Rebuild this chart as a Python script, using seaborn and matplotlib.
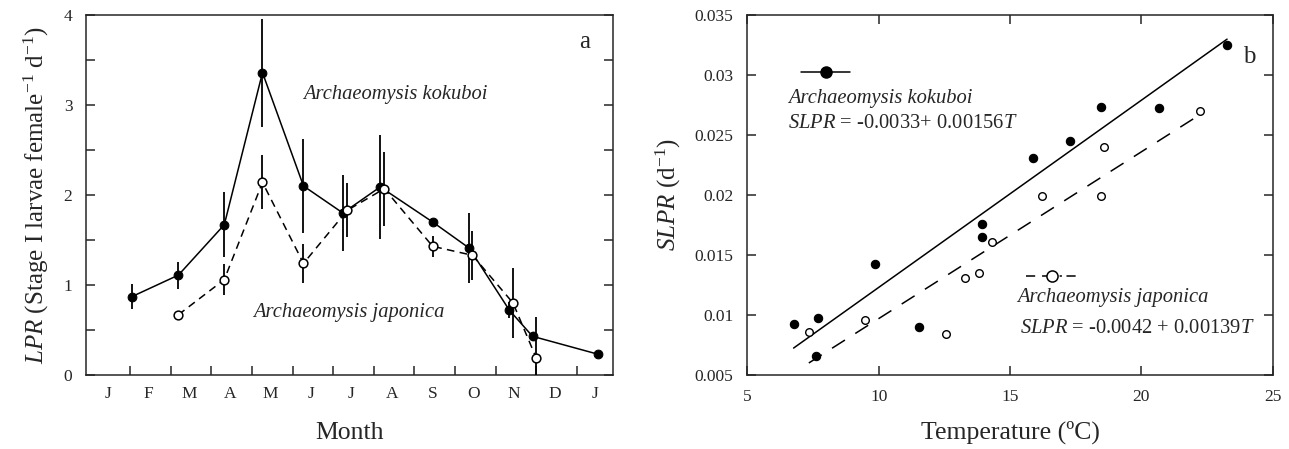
import numpy as np
import pandas as pd
import matplotlib
matplotlib.use("Agg")
import matplotlib.pyplot as plt
import seaborn as sns

# ---------------- data: panel a ----------------
month_labels = ["J", "F", "M", "A", "M", "J", "J", "A", "S", "O", "N", "D", "J"]
kok_month = [1.04, 2.19, 3.32, 4.26, 5.27, 6.24, 7.16, 8.45, 9.35, 10.34, 10.91, 12.53]
kok_lpr = [0.87, 1.11, 1.67, 3.36, 2.10, 1.80, 2.09, 1.70, 1.41, 0.72, 0.43, 0.23]
kok_sd = [0.14, 0.15, 0.36, 0.60, 0.52, 0.42, 0.58, 0.00, 0.39, 0.09, 0.05, 0.00]
jap_month = [2.19, 3.32, 4.26, 5.27, 6.35, 7.26, 8.45, 9.43, 10.43, 11.0]
jap_lpr = [0.67, 1.06, 2.14, 1.24, 1.83, 2.07, 1.43, 1.33, 0.80, 0.19]
jap_sd = [0.00, 0.17, 0.30, 0.22, 0.30, 0.41, 0.12, 0.27, 0.39, 0.46]

# ---------------- data: panel b ----------------
kok_temp = [6.76, 7.67, 7.62, 9.87, 11.54, 13.93, 13.93, 15.87, 17.27, 18.46, 20.66, 23.26]
kok_slpr = [0.00925, 0.00972, 0.00658, 0.01425, 0.00903, 0.01756, 0.01648,
            0.02306, 0.02453, 0.02736, 0.02722, 0.03250]
jap_temp = [7.34, 9.48, 12.56, 13.29, 13.80, 14.31, 16.23, 18.46, 18.59, 22.24]
jap_slpr = [0.00861, 0.00958, 0.00842, 0.01306, 0.01353, 0.01611,
            0.01992, 0.01992, 0.02403, 0.02700]
kok_coef = (-0.0033, 0.00156)
jap_coef = (-0.0042, 0.00139)

sns.set_style("ticks")
plt.rcParams["font.family"] = ["Liberation Serif", "DejaVu Serif"]
plt.rcParams["mathtext.fontset"] = "custom"
plt.rcParams["mathtext.rm"] = "Liberation Serif"
plt.rcParams["mathtext.it"] = "Liberation Serif:italic"

fig = plt.figure(figsize=(12.89, 4.49), dpi=100)
axA = fig.add_axes([0.0669, 0.1648, 0.4083, 0.8018])
axB = fig.add_axes([0.5798, 0.1648, 0.4076, 0.8018])

tick_fs = 12.5
lab_fs = 18.5
txt_fs = 14.8
tlen = 6.5

# ---------------- panel a ----------------
dk = pd.DataFrame({"month": kok_month, "lpr": kok_lpr})
dj = pd.DataFrame({"month": jap_month, "lpr": jap_lpr})

axA.errorbar(kok_month, kok_lpr, yerr=kok_sd, fmt="none", ecolor="black",
             elinewidth=1.3, capsize=0, zorder=2)
sns.lineplot(data=dk, x="month", y="lpr", ax=axA, color="black", lw=1.1,
             marker="o", markersize=6.3, markerfacecolor="black",
             markeredgecolor="black", sort=False, zorder=3)
axA.errorbar(jap_month, jap_lpr, yerr=jap_sd, fmt="none", ecolor="black",
             elinewidth=1.3, capsize=0, zorder=4)
sns.lineplot(data=dj, x="month", y="lpr", ax=axA, color="black", lw=1.1,
             linestyle=(0, (5, 3.5)), marker="o", markersize=6.3,
             markerfacecolor="white", markeredgecolor="black",
             markeredgewidth=1.1, sort=False, zorder=5)

axA.set_xlim(-0.08, 12.88)
axA.set_ylim(0, 4)
axA.set_xticks(np.arange(1, 13))
axA.set_xticklabels([])
axA.set_xticks(np.arange(len(month_labels)) + 0.45, minor=True)
axA.set_xticklabels(month_labels, minor=True)
axA.tick_params(axis="x", which="major", direction="in", length=tlen, width=1.1)
axA.tick_params(axis="x", which="minor", length=0, labelsize=tick_fs, pad=8)
axA.set_yticks(np.arange(0, 4.01, 0.5))
axA.set_yticklabels(["0", "", "1", "", "2", "", "3", "", "4"])
axA.tick_params(axis="y", direction="in", length=tlen, width=1.1,
                labelsize=tick_fs, left=True, right=True, pad=10)
for s in axA.spines.values():
    s.set_linewidth(1.1)
axA.set_xlabel("Month", fontsize=lab_fs, labelpad=14)
axA.set_ylabel(r"$\mathit{LPR}$ (Stage I larvae female$^{\mathrm{-1}}$ d$^{\mathrm{-1}}$)",
               fontsize=18, labelpad=9)
axA.text(5.26, 3.12, "Archaeomysis kokuboi", style="italic", fontsize=txt_fs,
         ha="left", va="center")
axA.text(4.04, 0.70, "Archaeomysis japonica", style="italic", fontsize=txt_fs,
         ha="left", va="center")
axA.text(12.2, 3.70, "a", fontsize=18, ha="center", va="center")

# ---------------- panel b ----------------
bk = pd.DataFrame({"temp": kok_temp, "slpr": kok_slpr})
bj = pd.DataFrame({"temp": jap_temp, "slpr": jap_slpr})

tk = np.array([min(kok_temp), max(kok_temp)])
tj = np.array([min(jap_temp), max(jap_temp)])
fk = pd.DataFrame({"temp": tk, "slpr": kok_coef[0] + kok_coef[1] * tk})
fj = pd.DataFrame({"temp": tj, "slpr": jap_coef[0] + jap_coef[1] * tj})
sns.lineplot(data=fk, x="temp", y="slpr", ax=axB, color="black", lw=1.1)
sns.lineplot(data=fj, x="temp", y="slpr", ax=axB, color="black", lw=1.1,
             linestyle=(0, (10, 8)))

sns.scatterplot(data=bk, x="temp", y="slpr", ax=axB, color="black", s=36,
                edgecolor="black", linewidth=0.8, zorder=3)
sns.scatterplot(data=bj, x="temp", y="slpr", ax=axB, color="white", s=30,
                edgecolor="black", linewidth=1.0, zorder=3)

# legend-like keys
axB.plot([7.03, 8.92], [0.03028, 0.03028], color="black", lw=1.1)
axB.plot([8.0], [0.03028], marker="o", ms=8, color="black")
axB.plot([15.62, 17.55], [0.01325, 0.01325], color="black", lw=1.1,
         linestyle=(0, (6, 4.5, 6, 5.5, 1.5, 3)))
axB.plot([16.58], [0.01325], marker="o", ms=8, markerfacecolor="white",
         markeredgecolor="black", markeredgewidth=1.1)

axB.text(6.55, 0.0280, "Archaeomysis kokuboi", style="italic", fontsize=txt_fs,
         ha="left", va="center")
axB.text(6.55, 0.02597, r"$\mathit{SLPR}$ = -0.0033+ 0.00156$\mathit{T}$",
         fontsize=txt_fs, ha="left", va="center")
axB.text(15.27, 0.01144, "Archaeomysis japonica", style="italic",
         fontsize=txt_fs, ha="left", va="center")
axB.text(15.37, 0.00889, r"$\mathit{SLPR}$ = -0.0042 + 0.00139$\mathit{T}$",
         fontsize=txt_fs, ha="left", va="center")
axB.text(24.09, 0.03153, "b", fontsize=18, ha="center", va="center")

axB.set_xlim(5, 25)
axB.set_ylim(0.005, 0.035)
axB.set_xticks([5, 10, 15, 20, 25])
axB.set_xticklabels(["5", "10", "15", "20", "25"])
yt = [0.005, 0.01, 0.015, 0.02, 0.025, 0.03, 0.035]
axB.set_yticks(yt)
axB.set_yticklabels(["0.005", "0.01", "0.015", "0.02", "0.025", "0.03", "0.035"])
axB.tick_params(axis="both", direction="in", length=tlen, width=1.1,
                labelsize=tick_fs, top=True, right=True, pad=10)
for s in axB.spines.values():
    s.set_linewidth(1.1)
axB.set_xlabel("Temperature (ºC)", fontsize=lab_fs, labelpad=11)
axB.set_ylabel(r"$\mathit{SLPR}$ (d$^{\mathrm{-1}}$)", fontsize=18, labelpad=8)

fig.savefig("out.png", dpi=100)
